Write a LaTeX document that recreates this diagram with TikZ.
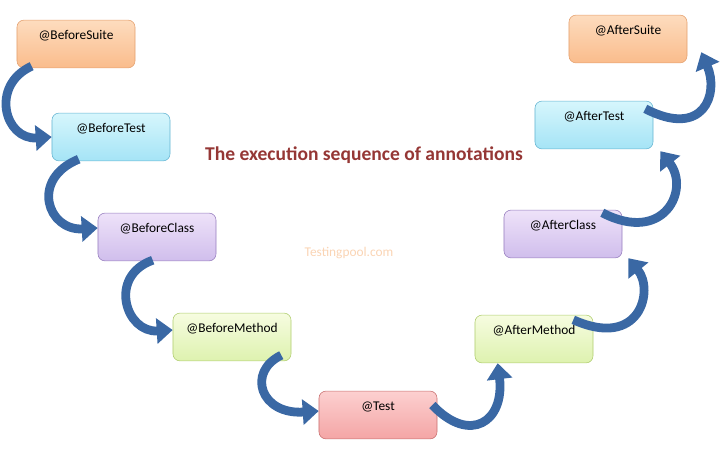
\documentclass[tikz,border=0pt]{standalone}
\usepackage{fontspec}
\setmainfont{Carlito}
\usepackage{tikz}
\usetikzlibrary{arrows.meta,calc}
\definecolor{suitetop}{RGB}{253,220,190}
\definecolor{suitebot}{RGB}{250,188,140}
\definecolor{suiteline}{RGB}{228,160,110}
\definecolor{testtop}{RGB}{214,246,252}
\definecolor{testbot}{RGB}{165,228,246}
\definecolor{testline}{RGB}{100,180,210}
\definecolor{classtop}{RGB}{238,226,249}
\definecolor{classbot}{RGB}{208,190,236}
\definecolor{classline}{RGB}{150,125,190}
\definecolor{methtop}{RGB}{246,252,224}
\definecolor{methbot}{RGB}{222,242,175}
\definecolor{methline}{RGB}{175,205,110}
\definecolor{unittop}{RGB}{252,208,208}
\definecolor{unitbot}{RGB}{244,165,165}
\definecolor{unitline}{RGB}{200,110,110}
\definecolor{flowblue}{RGB}{58,104,164}
\definecolor{titlered}{RGB}{149,55,53}
\definecolor{markpeach}{RGB}{250,212,180}

\begin{document}
\begin{tikzpicture}[x=0.025cm, y=-0.025cm,
  stage/.style={draw, rounded corners=5pt, minimum width=2.95cm, inner sep=3pt, text height=11pt, text depth=17pt, font=\fontsize{9.5}{11}\selectfont},
  suite/.style={top color=suitetop, bottom color=suitebot, draw=suiteline},
  testc/.style={top color=testtop, bottom color=testbot, draw=testline},
  classc/.style={top color=classtop, bottom color=classbot, draw=classline},
  methc/.style={top color=methtop, bottom color=methbot, draw=methline},
  unitc/.style={top color=unittop, bottom color=unitbot, draw=unitline},
  flow/.style={draw=flowblue, line width=0.22cm, -{Triangle[width=0.62cm,length=0.4cm]}}]
\useasboundingbox (0,0) rectangle (720,464);
\node[stage,suite] (bsuite) at (76,44) {@BeforeSuite};
\node[stage,testc] (btest) at (111,137) {@BeforeTest};
\node[stage,classc] (bclass) at (157,237) {@BeforeClass};
\node[stage,methc] (bmethod) at (232,337) {@BeforeMethod};
\node[stage,unitc] (test) at (378,415) {@Test};
\node[stage,methc] (amethod) at (534,339) {@AfterMethod};
\node[stage,classc] (aclass) at (563,234) {@AfterClass};
\node[stage,testc] (atest) at (594,125) {@AfterTest};
\node[stage,suite] (asuite) at (628,39) {@AfterSuite};
\node[text=titlered, font=\fontsize{13.9}{16}\selectfont\bfseries] (title) at (364,155) {The execution sequence of annotations};
\node[text=markpeach, font=\fontsize{9.5}{11}\selectfont] (mark) at (349,253) {Testingpool.com};
% going down
\draw[flow] ($(bsuite.south west)+(15,-2)$) .. controls +(-42,19) and +(-47,3) .. (btest.west);
\draw[flow] ($(btest.south west)+(27,-2)$) .. controls +(-49,20) and +(-50,3) .. ($(bclass.west)+(0,-9)$);
\draw[flow] ($(bclass.south west)+(55,-1)$) .. controls +(-45,16) and +(-47,3) .. ($(bmethod.west)+(0,-7)$);
\draw[flow] ($(bmethod.south east)+(-10,-6)$) .. controls +(-35,17) and +(-58,4) .. ($(test.west)+(0,-4)$);
% going up
\draw[flow] ($(test.east)+(-5,-10)$) .. controls +(38,40) and +(7,58) .. ($(amethod.south west)+(23,0)$);
\draw[flow] ($(amethod.north east)+(-20,5)$) .. controls +(67,30) and +(26,32) .. ($(aclass.south east)+(6,0)$);
\draw[flow] ($(aclass.north east)+(-20,3)$) .. controls +(62,32) and +(30,38) .. ($(atest.south east)+(7,2)$);
\draw[flow] ($(atest.north east)+(-8,8)$) .. controls +(58,30) and +(18,42) .. ($(asuite.south east)+(14,-11)$);
\end{tikzpicture}
\end{document}
